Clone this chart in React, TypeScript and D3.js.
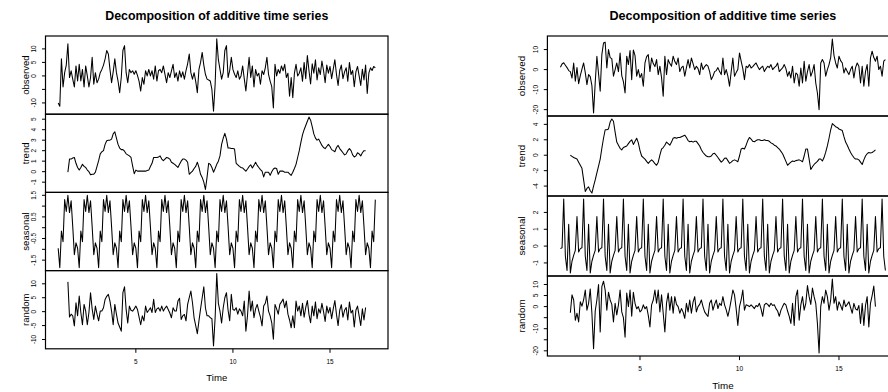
import React from "react";
import * as d3 from "d3";

// ---------------- data ----------------
const FREQUENCY = 12;
const START_TIME = 1;
const MA_LEAD = 6; // trend & random are NA for the first/last 6 months

const TITLE = "Decomposition of additive time series";
const panelLabels = ["observed", "trend", "seasonal", "random"];
const timeTicks = [5, 10, 15];

// ----- left decomposition -----
const leftObserved = [
  -10, -11.2, 6.3, -4.1, 1.2, 4.0, 11.9, -0.6, 1.9, -1.2,
  -4.1, 3.7, -1.9, 4.3, -1.9, 2.4, -4.1, 3.7, 0.0, -4.1,
  -0.6, 6.9, -3.1, 1.2, -2.5, -1.2, 1.2, 2.4, 4.0, 6.3,
  9.4, 8.1, 2.4, -2.5, 1.5, 6.3, 1.2, -1.9, -6.2, -0.5,
  9.4, 11.2, 1.2, -2.5, 2.4, 1.2, 1.9, 0.6, 1.9, 0.2,
  -2.0, -5.6, -0.6, -3.1, 1.9, 0.0, 2.4, 0.0, 1.9, -1.2,
  3.7, -1.9, 1.9, 2.4, 1.2, 3.7, 0.6, -2.5, 1.2, -0.6,
  1.9, 4.3, -0.6, 1.2, -1.9, 1.9, -0.5, 1.5, -1.2, 2.0,
  4.5, 8.1, 1.2, -1.2, 1.2, -2.0, -6.2, 2.4, 5.0, 8.7,
  4.0, 0.6, -1.2, -1.5, -1.9, -5.0, -13.1, -3.1, 13.7, 6.0,
  2.4, -1.2, 1.2, 9.4, 11.2, -0.6, 2.0, 6.9, 2.4, 0.6,
  -0.6, 1.9, -1.2, 0.0, 3.7, -1.0, -5.6, 0.6, 6.9, -0.6,
  3.7, -4.1, 2.4, 0.0, 1.0, -3.1, 1.9, 0.5, 3.0, 6.9,
  0.6, -1.9, -4.0, -11.9, 4.3, 0.0, 2.4, 1.0, 3.7, 1.9,
  4.3, -0.6, 1.0, -7.5, -0.6, -8.1, 1.0, 4.3, 0.0, 1.0,
  3.0, -2.0, 5.0, -1.0, 7.5, 2.0, -3.0, 4.5, 1.0, 6.0,
  -1.5, 3.0, 0.5, 5.5, 2.0, -2.5, 4.0, 1.0, 3.5, -1.0,
  2.5, 6.0, 0.5, -3.5, 2.0, 4.0, -1.0, 1.5, 3.0, -2.0,
  5.0, 0.5, 2.0, -4.0, 1.5, 3.5, 0.0, -3.5, 2.5, -1.5,
  4.0, -6.5, 1.0, 3.0, 2.0, 3.5, 3.0,
];

const leftTrend = [
  -0.05, 1.2, 1.2, 1.3, 1.35, 0.8, 0.4, 0.15, 0.4, 0.7,
  0.5, 0.4, 0.15, 0.0, -0.3, -0.25, -0.25, -0.05, 0.5, 1.05,
  1.7, 1.9, 2.0, 2.6, 2.95, 3.0, 3.0, 3.1, 3.6, 3.8,
  3.2, 2.6, 2.25, 2.1, 2.1, 1.95, 1.7, 1.6, 1.5, 1.35,
  0.55, -0.2, 0.15, 0.05, 0.05, 0.05, 0.05, 0.05, 0.05, 0.1,
  0.15, 0.5, 0.8, 1.35, 1.35, 1.35, 1.4, 1.5, 1.2, 1.05,
  1.2, 1.35, 1.3, 1.2, 0.9, 0.8, 0.7, 0.55, 0.4, 0.7,
  1.0, 1.2, 1.2, 1.1, 0.9, -0.25, -0.1, 0.05, 0.3, 0.5,
  0.9, 0.4, -0.25, -0.55, -1.0, -1.7, -0.55, 0.8, 0.7, 0.4,
  -0.05, 0.3, 0.7, 1.0, 1.5, 2.6, 3.2, 3.65, 3.1, 2.25,
  2.25, 2.2, 2.2, 2.15, 0.8, 0.65, 0.5, 0.4, 0.35, 0.2,
  0.05, 0.25, 0.5, 0.65, 0.35, 0.6, 0.9, 0.6, 0.4, 0.2,
  0.05, -0.5, -0.05, -0.05, -0.05, -0.35, 0.0, 0.25, 0.35, 0.3,
  -0.25, 0.05, 0.05, 0.05, -0.05, -0.05, -0.05, -0.2, -0.35, -0.05,
  0.3, 0.7, 1.35, 2.0, 2.8, 3.5, 4.0, 4.4, 4.8, 5.2,
  4.9, 4.3, 3.6, 3.2, 3.0, 3.1, 2.8, 2.5, 2.3, 2.2,
  2.4, 2.6, 2.4, 2.1, 2.0, 1.9, 2.3, 2.5, 2.2, 2.0,
  1.8, 1.6, 1.7, 2.0, 2.2, 2.0, 1.6, 1.4, 1.5, 1.8,
  1.7, 1.5, 1.8, 2.0, 2.0,
];

const leftSeasonal = [
  -0.95, -1.85, -0.15, -0.65, 1.3, 0.75, 1.5, 0.7, 1.25, 0.05, -1.25, -0.7,
  -0.95, -1.85, -0.15, -0.65, 1.3, 0.75, 1.5, 0.7, 1.25, 0.05, -1.25, -0.7,
  -0.95, -1.85, -0.15, -0.65, 1.3, 0.75, 1.5, 0.7, 1.25, 0.05, -1.25, -0.7,
  -0.95, -1.85, -0.15, -0.65, 1.3, 0.75, 1.5, 0.7, 1.25, 0.05, -1.25, -0.7,
  -0.95, -1.85, -0.15, -0.65, 1.3, 0.75, 1.5, 0.7, 1.25, 0.05, -1.25, -0.7,
  -0.95, -1.85, -0.15, -0.65, 1.3, 0.75, 1.5, 0.7, 1.25, 0.05, -1.25, -0.7,
  -0.95, -1.85, -0.15, -0.65, 1.3, 0.75, 1.5, 0.7, 1.25, 0.05, -1.25, -0.7,
  -0.95, -1.85, -0.15, -0.65, 1.3, 0.75, 1.5, 0.7, 1.25, 0.05, -1.25, -0.7,
  -0.95, -1.85, -0.15, -0.65, 1.3, 0.75, 1.5, 0.7, 1.25, 0.05, -1.25, -0.7,
  -0.95, -1.85, -0.15, -0.65, 1.3, 0.75, 1.5, 0.7, 1.25, 0.05, -1.25, -0.7,
  -0.95, -1.85, -0.15, -0.65, 1.3, 0.75, 1.5, 0.7, 1.25, 0.05, -1.25, -0.7,
  -0.95, -1.85, -0.15, -0.65, 1.3, 0.75, 1.5, 0.7, 1.25, 0.05, -1.25, -0.7,
  -0.95, -1.85, -0.15, -0.65, 1.3, 0.75, 1.5, 0.7, 1.25, 0.05, -1.25, -0.7,
  -0.95, -1.85, -0.15, -0.65, 1.3, 0.75, 1.5, 0.7, 1.25, 0.05, -1.25, -0.7,
  -0.95, -1.85, -0.15, -0.65, 1.3, 0.75, 1.5, 0.7, 1.25, 0.05, -1.25, -0.7,
  -0.95, -1.85, -0.15, -0.65, 1.3, 0.75, 1.5, 0.7, 1.25, 0.05, -1.25, -0.7,
  -0.95, -1.85, -0.15, -0.65, 1.3,
];

const leftRandom = [
  10.7, -1.9, -0.9, -1.5, -5.1, 3.2, -1.5, 5.6, -0.3, -4.7,
  2.6, 0.2, -4.7, -0.3, 6.8, 1.0, -2.8, 2.0, -0.9, -3.3,
  0.2, 0.2, 1.4, 4.4, 5.5, 6.2, 3.8, 0.2, -4.7, 2.6,
  -0.9, -4.1, -5.5, -7.0, 6.8, 8.9, 0.8, -4.1, 2.0, 0.5,
  0.2, 1.0, 2.0, 0.8, -2.0, -4.7, -1.5, -3.3, 2.0, -0.3,
  0.5, 1.4, -0.3, 4.4, -0.3, 1.0, 1.4, 0.2, 2.0, 0.2,
  1.2, 2.0, 0.8, -0.5, -2.2, 1.4, 0.2, 0.2, 3.8, 4.8,
  -2.8, -1.5, -1.0, -3.3, 2.6, 5.0, 7.4, 3.2, -2.2, -5.0,
  -7.9, -3.3, 1.0, 5.0, 8.9, 1.4, -1.5, -1.5, -2.2, -2.5,
  -12.3, -2.2, 13.7, 3.0, 0.2, -4.1, 1.4, 5.0, 6.8, 0.5,
  -3.3, 6.2, 0.8, 0.5, 1.4, -0.9, 1.0, 0.2, -1.5, 3.8,
  -7.0, -1.5, 7.4, 0.2, 3.8, -2.2, 1.0, 2.6, 0.2, -2.0,
  -5.1, 2.0, 3.0, 5.6, 0.2, -1.5, -4.0, -9.9, 2.6, 1.0,
  -0.9, 2.6, 3.5, 4.5, 1.4, 3.8, -0.9, -3.0, -5.8, -1.5,
  -5.8, 3.8, 0.2, 2.0, -1.5, 3.0, -2.0, 1.5, 4.0, -1.0,
  -4.0, 2.0, -1.5, 3.5, -2.5, 1.0, -0.5, 3.0, 0.0, -3.5,
  2.0, -0.5, 1.5, -2.5, 1.0, 4.0, -1.0, -5.0, 0.5, 2.5,
  -2.0, 0.5, 1.5, -3.0, 3.5, -0.5, 0.5, -5.5, 0.5, 2.0,
  -1.5, -5.0, 1.0, -3.0, 1.5,
];

const leftObservedTicks = [-10, -5, 0, 5, 10];
const leftObservedTickLabels = ["-10", "", "0", "5", "10"];
const leftTrendTicks = [-1, 0, 1, 2, 3, 4, 5];
const leftTrendTickLabels = ["-1", "0", "1", "2", "3", "4", "5"];
const leftSeasonalTicks = [-1.5, -1, -0.5, 0, 0.5, 1, 1.5];
const leftSeasonalTickLabels = ["-1.5", "", "-0.5", "", "0.5", "", "1.5"];
const leftRandomTicks = [-10, -5, 0, 5, 10];
const leftRandomTickLabels = ["-10", "-5", "0", "5", "10"];

// ----- right decomposition -----
const rightObserved = [
  1.2, 2.8, 3.4, 2.2, 1.0, -0.5, -1.0, -4.2, 3.3, -5.8,
  1.0, -7.0, -3.0, 0.2, 3.3, -1.5, -7.5, -2.5, -3.5, -8.0,
  -21.7, -6.5, 6.7, -2.0, -10.8, 7.5, 13.3, 13.7, 0.8, 10.0,
  6.0, 5.5, -3.3, 0.0, 3.3, -1.0, 8.3, -3.0, -6.0, -11.7,
  6.7, 2.5, 9.5, -5.0, 9.8, 7.0, -3.3, 0.0, -4.0, -2.0,
  -8.3, 3.3, 6.5, 7.5, -1.0, 5.8, 3.0, 1.5, 5.0, -2.5,
  1.7, -4.0, -13.3, 6.7, -2.5, 5.0, 3.0, 1.7, 6.7, 4.0,
  2.5, 5.8, -1.0, 1.0, 1.7, -3.3, 1.0, 5.0, 0.8, 5.8,
  3.0, 0.0, 1.7, 0.5, -2.5, 3.3, 0.0, 1.5, 2.5, 1.7,
  -1.0, -5.0, -3.3, -1.0, -0.5, 1.0, -1.0, -2.5, 5.8, -2.5,
  0.0, -3.3, -8.3, -1.0, 5.8, -3.3, -1.5, 0.0, 8.3, 4.2,
  0.5, -5.0, 1.7, 1.0, 2.5, 0.8, 1.5, 2.5, 3.3, 1.5,
  0.0, 1.0, 1.7, -1.0, 0.5, 1.7, 1.0, 2.5, 0.0, 1.0,
  1.7, 3.3, -1.0, 0.0, 0.8, 2.5, 0.5, -3.3, -1.0, -4.2,
  1.7, -6.7, -1.7, -2.5, -8.3, 0.8, -6.7, 4.2, -5.8, -1.0,
  2.5, -3.3, -1.0, 2.5, -6.7, -11.7, -20.0, 3.3, 5.0, 3.3,
  -3.3, 0.0, 2.5, 6.0, 15.3, 7.0, 3.3, 0.8, 6.7, 4.5,
  3.3, -1.7, 0.8, -1.0, -2.5, 0.0, 1.7, -4.2, 1.0, 3.3,
  1.7, -6.7, 1.7, -8.3, -1.0, 2.5, -8.3, 5.8, 9.2, 6.0,
  4.2, 6.7, 0.0, 1.7, -3.3, 4.2, 5.0,
];

const rightTrend = [
  0.0, -0.15, -0.3, -0.4, -0.5, -0.9, -1.3, -1.7, -3.2, -4.7,
  -4.3, -4.1, -4.6, -4.9, -4.0, -3.2, -2.3, -1.4, -0.5, 0.9,
  2.2, 3.3, 3.3, 3.4, 4.3, 4.7, 4.4, 3.0, 1.7, 1.3,
  0.9, 0.7, 1.0, 1.1, 1.2, 1.5, 1.8, 2.0, 1.4, 1.8,
  2.2, 1.6, 0.6, -0.1, -0.3, -0.5, -0.8, -1.05, -0.8, -0.6,
  -0.8, -1.1, -1.3, -0.9, 0.0, 0.8, 1.0, 1.3, 1.7, 1.5,
  1.3, 1.7, 2.2, 2.3, 2.2, 2.3, 2.3, 2.4, 2.5, 2.6,
  2.3, 1.9, 1.75, 1.8, 1.7, 1.8, 1.8, 1.5, 1.2, 0.7,
  0.35, 0.1, -0.1, -0.2, -0.2, -0.1, 0.2, 0.25, 0.0, -0.3,
  -0.6, -0.9, -0.7, -0.4, -0.35, -0.7, -1.05, -0.9, -0.7, -0.6,
  -0.7, -0.85, -0.1, 0.8, 0.9, 0.8, 1.3, 1.9, 2.3, 2.1,
  1.8, 1.75, 1.9, 2.0, 2.0, 1.9, 1.9, 2.0, 1.9, 1.9,
  1.8, 1.6, 1.5, 1.3, 1.2, 1.0, 0.8, 0.5, 0.2, -0.3,
  -0.8, -1.3, -1.1, -0.9, -0.75, -0.8, -0.7, -0.65, -0.6, -0.7,
  -0.85, -0.1, 0.8, 0.8, -0.5, -1.85, -1.5, -1.2, -1.0, -0.8,
  -0.5, -0.5, -0.75, -0.3, 0.4, 1.2, 2.2, 3.3, 4.1, 3.9,
  3.7, 3.6, 3.4, 3.3, 3.2, 2.4, 1.7, 1.3, 0.8, 0.35,
  0.0, -0.3, -0.5, -0.5, -0.6, -0.9, -1.2, -0.6, -0.1, 0.2,
  0.35, 0.3, 0.35, 0.5, 0.7,
];

const rightSeasonal = [
  -0.15, -0.1, 2.8, -0.6, -1.45, 1.3, -1.6, -0.9, -0.55, -0.25, 1.75, -0.35,
  -0.15, -0.1, 2.8, -0.6, -1.45, 1.3, -1.6, -0.9, -0.55, -0.25, 1.75, -0.35,
  -0.15, -0.1, 2.8, -0.6, -1.45, 1.3, -1.6, -0.9, -0.55, -0.25, 1.75, -0.35,
  -0.15, -0.1, 2.8, -0.6, -1.45, 1.3, -1.6, -0.9, -0.55, -0.25, 1.75, -0.35,
  -0.15, -0.1, 2.8, -0.6, -1.45, 1.3, -1.6, -0.9, -0.55, -0.25, 1.75, -0.35,
  -0.15, -0.1, 2.8, -0.6, -1.45, 1.3, -1.6, -0.9, -0.55, -0.25, 1.75, -0.35,
  -0.15, -0.1, 2.8, -0.6, -1.45, 1.3, -1.6, -0.9, -0.55, -0.25, 1.75, -0.35,
  -0.15, -0.1, 2.8, -0.6, -1.45, 1.3, -1.6, -0.9, -0.55, -0.25, 1.75, -0.35,
  -0.15, -0.1, 2.8, -0.6, -1.45, 1.3, -1.6, -0.9, -0.55, -0.25, 1.75, -0.35,
  -0.15, -0.1, 2.8, -0.6, -1.45, 1.3, -1.6, -0.9, -0.55, -0.25, 1.75, -0.35,
  -0.15, -0.1, 2.8, -0.6, -1.45, 1.3, -1.6, -0.9, -0.55, -0.25, 1.75, -0.35,
  -0.15, -0.1, 2.8, -0.6, -1.45, 1.3, -1.6, -0.9, -0.55, -0.25, 1.75, -0.35,
  -0.15, -0.1, 2.8, -0.6, -1.45, 1.3, -1.6, -0.9, -0.55, -0.25, 1.75, -0.35,
  -0.15, -0.1, 2.8, -0.6, -1.45, 1.3, -1.6, -0.9, -0.55, -0.25, 1.75, -0.35,
  -0.15, -0.1, 2.8, -0.6, -1.45, 1.3, -1.6, -0.9, -0.55, -0.25, 1.75, -0.35,
  -0.15, -0.1, 2.8, -0.6, -1.45, 1.3, -1.6, -0.9, -0.55, -0.25, 1.75, -0.35,
  -0.15, -0.1, 2.8, -0.6, -1.45,
];

const rightRandom = [
  -2.8, 5.3, 3.0, -6.2, -3.0, -6.9, 2.2, 0.2, 3.0, 7.5,
  -1.6, 1.5, 8.0, -3.0, -19.0, -2.0, 3.0, 10.0, -11.5, 9.0,
  11.5, 7.5, -1.6, 6.5, 3.0, 1.0, -6.9, 1.5, -3.8, 0.8,
  7.5, -2.4, -5.0, -13.8, 6.1, 0.0, 7.5, -4.4, 6.5, 1.5,
  -1.0, 0.0, -2.4, -1.6, 0.8, -1.0, 0.0, -4.0, -9.2, 0.8,
  3.0, 7.5, 1.5, 7.5, -2.4, 5.3, -3.0, -11.5, 1.5, 6.1,
  -1.6, 4.5, -3.0, 4.5, 1.0, 0.0, -3.0, -0.9, -2.5, -5.3,
  1.5, -2.4, 3.0, -3.0, 2.0, 4.5, -2.4, 0.0, 1.0, 3.0,
  0.0, -2.4, -3.5, -4.4, 1.5, 3.0, -1.6, 1.0, 3.0, -0.9,
  1.5, 0.5, 4.5, 0.8, -1.5, -4.4, -1.0, 3.0, 7.5, 5.3,
  -1.0, -8.5, 0.0, 3.0, 7.5, -1.6, 0.8, 0.5, 0.0, 0.8,
  0.0, -0.9, 0.5, 0.0, 1.5, -1.0, -4.4, 0.8, 1.5, 1.0,
  0.0, 1.5, 0.5, 0.8, -0.9, -2.0, -4.4, -1.6, 0.0, 1.5,
  0.8, -2.0, -4.4, -7.6, 1.5, -8.5, 4.5, 7.5, -6.2, 0.8,
  4.5, -1.6, 1.5, 9.5, 4.5, 1.0, 8.4, 4.5, 1.5, -7.6,
  -21.0, 0.0, 4.5, 1.5, 7.5, 4.5, -1.6, 3.0, 12.5, 1.5,
  4.5, -1.6, 2.2, 0.5, -1.6, 3.0, 0.0, 1.0, 2.2, -0.5,
  -3.0, 1.5, -1.0, -1.6, 0.5, -7.6, 1.5, -8.5, 0.5, 4.5,
  -9.2, 1.5, 5.0, 9.3, 0.0,
];

const rightObservedTicks = [-20, -10, 0, 10];
const rightObservedTickLabels = ["-20", "-10", "0", "10"];
const rightTrendTicks = [-4, -2, 0, 2, 4];
const rightTrendTickLabels = ["-4", "-2", "0", "2", "4"];
const rightSeasonalTicks = [-1, 0, 1, 2];
const rightSeasonalTickLabels = ["-1", "0", "1", "2"];
const rightRandomTicks = [-20, -15, -10, -5, 0, 5, 10];
const rightRandomTickLabels = ["-20", "", "-10", "", "0", "5", "10"];

// ---------------- rendering ----------------
const FONT = "'Liberation Sans', Arial, Helvetica, sans-serif";

type Series = {
  label: string;
  values: number[];
  offset: number;
  ticks: number[];
  tickLabels: string[];
};

type Layout = {
  x0: number;
  x1: number;
  top: number;
  panelH: number;
  titleY: number;
  titleSize: number;
  ylabX: number;
  labelSize: number;
  tickSize: number;
  tickLen: number;
  yTickLabDX: number;
  xTickLabDY: number;
  timeDY: number;
};

const leftLayout: Layout = {
  x0: 45.5, x1: 388, top: 36, panelH: 78.2,
  titleY: 19.5, titleSize: 12.4, ylabX: 25, labelSize: 9.6, tickSize: 6.4,
  tickLen: 3.5, yTickLabDX: 11.7, xTickLabDY: 12.3, timeDY: 28.3,
};

const rightLayout: Layout = {
  x0: 547.4, x1: 898.4, top: 36, panelH: 80,
  titleY: 19.5, titleSize: 12.6, ylabX: 521, labelSize: 9.8, tickSize: 6.6,
  tickLen: 3.6, yTickLabDX: 12, xTickLabDY: 12.6, timeDY: 29,
};

function DecompositionPlot({ layout, series }: { layout: Layout; series: Series[] }) {
  const { x0, x1, top, panelH } = layout;
  const n = series[0].values.length;
  const tEnd = START_TIME + (n - 1) / FREQUENCY;
  const tPad = 0.04 * (tEnd - START_TIME);
  const x = d3.scaleLinear().domain([START_TIME - tPad, tEnd + tPad]).range([x0, x1]);
  const bottom = top + panelH * series.length;

  return (
    <g fontFamily={FONT}>
      <text
        x={(x0 + x1) / 2}
        y={layout.titleY}
        textAnchor="middle"
        fontWeight="bold"
        fontSize={layout.titleSize}
        fill="#000"
      >
        {TITLE}
      </text>
      {series.map((s, k) => {
        const [mn, mx] = d3.extent(s.values) as [number, number];
        const pad = 0.04 * (mx - mn);
        const yTop = top + k * panelH;
        const yBot = yTop + panelH;
        const y = d3.scaleLinear().domain([mn - pad, mx + pad]).range([yBot, yTop]);
        const line = d3
          .line<number>()
          .x((_, i) => x(START_TIME + (i + s.offset) / FREQUENCY))
          .y((v) => y(v));
        return (
          <g key={s.label}>
            <path d={line(s.values) || ""} fill="none" stroke="#000" strokeWidth={1.05} strokeLinejoin="round" />
            <rect x={x0} y={yTop} width={x1 - x0} height={panelH} fill="none" stroke="#000" strokeWidth={1.2} />
            {s.ticks.map((t, j) => (
              <g key={t}>
                <line x1={x0} x2={x0 - layout.tickLen} y1={y(t)} y2={y(t)} stroke="#000" strokeWidth={1} />
                {s.tickLabels[j] !== "" && (
                  <text
                    transform={`translate(${x0 - layout.yTickLabDX},${y(t)}) rotate(-90)`}
                    textAnchor="middle"
                    dominantBaseline="central"
                    fontSize={layout.tickSize}
                    fill="#000"
                  >
                    {s.tickLabels[j]}
                  </text>
                )}
              </g>
            ))}
            <text
              transform={`translate(${layout.ylabX},${(yTop + yBot) / 2}) rotate(-90)`}
              textAnchor="middle"
              dominantBaseline="central"
              fontSize={layout.labelSize}
              fill="#000"
            >
              {s.label}
            </text>
          </g>
        );
      })}
      {timeTicks.map((t) => (
        <g key={t}>
          <line x1={x(t)} x2={x(t)} y1={bottom} y2={bottom + layout.tickLen + 0.5} stroke="#000" strokeWidth={1} />
          <text
            x={x(t)}
            y={bottom + layout.xTickLabDY}
            textAnchor="middle"
            dominantBaseline="central"
            fontSize={layout.tickSize}
            fill="#000"
          >
            {t}
          </text>
        </g>
      ))}
      <text
        x={(x0 + x1) / 2}
        y={bottom + layout.timeDY}
        textAnchor="middle"
        dominantBaseline="central"
        fontSize={layout.labelSize}
        fill="#000"
      >
        Time
      </text>
    </g>
  );
}

const leftSeries: Series[] = [
  { label: panelLabels[0], values: leftObserved, offset: 0, ticks: leftObservedTicks, tickLabels: leftObservedTickLabels },
  { label: panelLabels[1], values: leftTrend, offset: MA_LEAD, ticks: leftTrendTicks, tickLabels: leftTrendTickLabels },
  { label: panelLabels[2], values: leftSeasonal, offset: 0, ticks: leftSeasonalTicks, tickLabels: leftSeasonalTickLabels },
  { label: panelLabels[3], values: leftRandom, offset: MA_LEAD, ticks: leftRandomTicks, tickLabels: leftRandomTickLabels },
];

const rightSeries: Series[] = [
  { label: panelLabels[0], values: rightObserved, offset: 0, ticks: rightObservedTicks, tickLabels: rightObservedTickLabels },
  { label: panelLabels[1], values: rightTrend, offset: MA_LEAD, ticks: rightTrendTicks, tickLabels: rightTrendTickLabels },
  { label: panelLabels[2], values: rightSeasonal, offset: 0, ticks: rightSeasonalTicks, tickLabels: rightSeasonalTickLabels },
  { label: panelLabels[3], values: rightRandom, offset: MA_LEAD, ticks: rightRandomTicks, tickLabels: rightRandomTickLabels },
];

export default function App() {
  return (
    <svg
      width={888}
      height={392}
      viewBox="0 0 888 392"
      style={{ position: "absolute", left: 0, top: 0, display: "block", background: "#fff" }}
    >
      <rect x={0} y={0} width={888} height={392} fill="#fff" />
      <DecompositionPlot layout={leftLayout} series={leftSeries} />
      <DecompositionPlot layout={rightLayout} series={rightSeries} />
    </svg>
  );
}
